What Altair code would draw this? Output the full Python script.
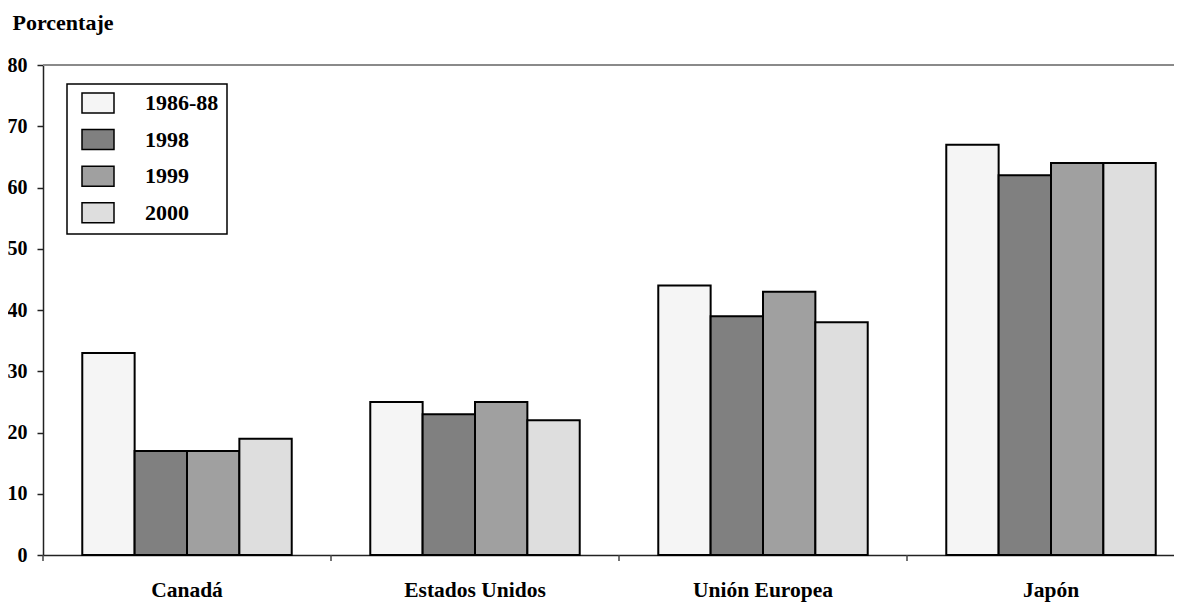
import altair as alt
import pandas as pd

regions = ["Canadá", "Estados Unidos", "Unión Europea", "Japón"]
periods = ["1986-88", "1998", "1999", "2000"]
v_1986_88 = [33, 25, 44, 67]
v_1998 = [17, 23, 39, 62]
v_1999 = [17, 25, 43, 64]
v_2000 = [19, 22, 38, 64]
colors = ["#f5f5f5", "#808080", "#a0a0a0", "#dedede"]
y_ticks = [0, 10, 20, 30, 40, 50, 60, 70, 80]

rows = []
for p, vals in zip(periods, [v_1986_88, v_1998, v_1999, v_2000]):
    for r, v in zip(regions, vals):
        rows.append({"region": r, "period": p, "value": v})
df = pd.DataFrame(rows)

FONT = "Liberation Serif"

x_scale = alt.Scale(domain=regions, range=[0, 1152], paddingInner=0, paddingOuter=0)
y_scale = alt.Scale(domain=[0, 80], nice=False)

x_axis = alt.Axis(title=None, labelAngle=0, ticks=False,
                  domainColor="#222", domainWidth=1.5,
                  labelFont=FONT, labelFontSize=21.5, labelFontWeight="bold",
                  labelColor="black", labelBaseline="top",
                  labelPadding=24, grid=False)

bars = alt.Chart(df).mark_bar(stroke="black", strokeWidth=2).encode(
    x=alt.X("region:N", sort=regions, scale=x_scale, axis=x_axis),
    xOffset=alt.XOffset("period:N", sort=periods,
                        scale=alt.Scale(paddingInner=0, paddingOuter=0.75)),
    y=alt.Y("value:Q", scale=y_scale,
            axis=alt.Axis(values=y_ticks, grid=False, domainColor="#222", domainWidth=1.5,
                          tickColor="#222", tickSize=6, tickWidth=1.5,
                          labelFont=FONT, labelFontSize=20, labelFontWeight="bold",
                          labelColor="black", labelPadding=10,
                          title="Porcentaje", titleAngle=0, titleAlign="left",
                          titleBaseline="alphabetic", titleX=-31, titleY=-36,
                          titleFont=FONT, titleFontSize=22, titleFontWeight="bold",
                          titleColor="black")),
    color=alt.Color("period:N", sort=periods,
                    scale=alt.Scale(domain=periods, range=colors),
                    legend=alt.Legend(title=None, orient="none", legendX=24, legendY=19,
                                      symbolType="M-1.6,-1H1.6V1H-1.6Z", symbolSize=400,
                                      symbolStrokeColor="black", symbolStrokeWidth=1.5,
                                      symbolOffset=12, labelOffset=36, rowPadding=10.6,
                                      padding=8, labelFont=FONT, labelFontSize=22,
                                      labelFontWeight="bold", labelColor="black")),
)

top_rule = alt.Chart(df).mark_rule(color="#8a8a8a", strokeWidth=2).encode(
    y=alt.datum(80, scale=y_scale)
)

cat_df = pd.DataFrame({"region": regions})
tick_rules = alt.Chart(cat_df).mark_rule(color="#444", strokeWidth=1.5).encode(
    x=alt.X("region:N", sort=regions, scale=x_scale, bandPosition=0, axis=x_axis),
    y=alt.value(490),
    y2=alt.value(496),
)

chart = alt.layer(top_rule, tick_rules, bars).properties(
    width=1131, height=490,
    autosize=alt.AutoSizeParams(type="none"),
    padding={"left": 35, "top": 57, "right": 0, "bottom": 47},
).configure_view(stroke=None).configure_legend(
    strokeColor="black", strokeWidth=1.5, fillColor="white"
)

chart.save("out.html", embed_options={"renderer": "svg", "actions": False})
